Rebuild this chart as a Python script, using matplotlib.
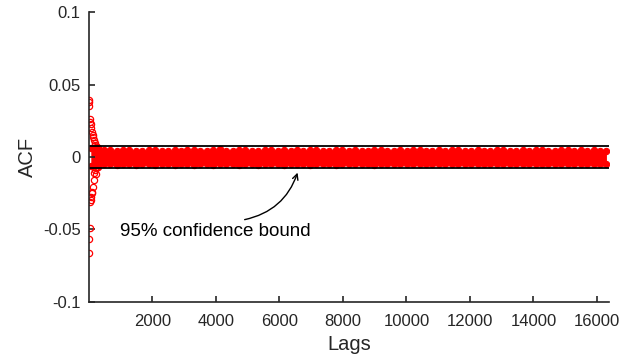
import numpy as np
import matplotlib.pyplot as plt

plt.rcParams['font.family'] = ['Liberation Sans', 'DejaVu Sans']

# autocorrelation at the first lags (the large ones stand out of the band)
early_lags = [2, 4, 6, 8, 14, 20, 30, 38, 45, 55, 62, 70, 80, 90, 100, 110,
              120, 130, 140, 150, 160, 170, 180, 190, 200, 210, 220, 230,
              240, 250, 260, 270, 280, 290, 300]
early_acf = [0.0394, -0.0665, 0.0382, -0.0569, 0.0352, -0.0493, 0.0263,
             -0.0313, 0.0244, -0.0297, 0.0228, -0.0274, 0.0200, -0.0251,
             0.0175, -0.0240, 0.0152, -0.0205, 0.0140, -0.0159, 0.0118,
             -0.0111, 0.0095, -0.0090, 0.0085, -0.0120, 0.0072, -0.0075,
             0.0068, -0.0068, 0.0070, -0.0072, 0.0065, -0.0070, 0.0060]

# upper / lower extent of the dense band of the remaining lags (x 1e-3)
band_upper = [6.4, 5.4, 4.6, 4.8, 4.3, 4.5, 4.9, 4.2, 4.4, 4.7, 5.1, 4.3,
              4.4, 4.6, 4.2, 4.5, 4.8, 4.4, 4.1, 4.6, 5.2, 4.4, 4.3, 4.7,
              4.5, 4.2, 4.4, 4.9, 4.6, 4.3, 4.5, 4.4, 4.8, 4.2, 4.5, 4.7,
              4.3, 4.4, 5.0, 4.5, 4.2, 4.6, 4.4, 4.3, 4.7, 4.5, 4.1, 4.4,
              4.8, 4.3, 4.5, 4.6, 4.2, 4.4, 4.7, 4.3, 4.5, 4.9, 4.4, 4.2,
              4.6, 4.4, 4.3, 4.8, 4.5, 4.2, 4.4, 4.7, 4.3, 4.5, 5.0, 4.4,
              4.2, 4.6, 4.8, 4.3, 4.5, 4.4, 4.7, 4.3, 4.4]
band_lower = [-6.4, -5.4, -5.0, -4.8, -5.3, -4.9, -5.1, -5.4, -4.8, -5.0,
              -5.2, -4.9, -5.1, -5.5, -5.0, -4.8, -5.2, -5.1, -4.9, -5.3,
              -5.0, -4.8, -5.1, -5.4, -4.9, -5.0, -5.2, -4.8, -5.1, -4.9,
              -5.3, -5.0, -4.8, -5.1, -5.2, -4.9, -4.7, -5.0, -5.3, -4.8,
              -4.9, -5.1, -4.8, -5.0, -5.2, -4.7, -4.9, -4.8, -5.1, -4.9,
              -4.7, -5.0, -4.8, -5.1, -4.7, -4.9, -4.8, -5.0, -4.6, -4.8,
              -4.9, -4.7, -5.0, -4.8, -4.6, -4.9, -4.7, -4.8, -5.0, -4.6,
              -4.8, -4.7, -4.9, -4.6, -4.8, -4.7, -4.5, -4.8, -4.6, -4.7,
              -4.6]
band_start, band_end = 60, 16300
max_lag = 16384
conf_bound = 0.0078

band_lags = np.linspace(band_start, band_end, len(band_upper))
upper = np.array(band_upper) / 1000
lower = np.array(band_lower) / 1000

fig = plt.figure(figsize=(6.26, 3.54), dpi=100)
ax = fig.add_axes([0.142, 0.148, 0.831, 0.817])

red = '#ff0000'
ax.fill_between(band_lags, lower, upper, color=red, lw=0)
ax.plot(band_lags, upper, 'o', color=red, ms=4.5, mew=0.8)
ax.plot(band_lags, lower, 'o', color=red, ms=4.5, mew=0.8)
ax.plot(early_lags, early_acf, 'o', color=red, mfc='none', ms=4.5, mew=0.9)

ax.plot([0, max_lag], [conf_bound, conf_bound], color='black', lw=1.3)
ax.plot([0, max_lag], [-conf_bound, -conf_bound], color='black', lw=1.3)

ax.annotate('', xy=(6600, -0.0090), xytext=(4820, -0.0437),
            arrowprops=dict(arrowstyle='->', color='black', lw=1.0,
                            connectionstyle='arc3,rad=0.3'))
ax.text(970, -0.0514, '95% confidence bound', fontsize=13.5,
        ha='left', va='center', color='black')

ax.set_xlim(0, max_lag)
ax.set_ylim(-0.1, 0.1)
ax.set_xticks(np.arange(2000, 16001, 2000))
ax.set_yticks([-0.1, -0.05, 0, 0.05, 0.1])
ax.set_yticklabels(['-0.1', '-0.05', '0', '0.05', '0.1'])
ax.set_xlabel('Lags', fontsize=14.5, labelpad=4, color='#262626')
ax.set_ylabel('ACF', fontsize=14.5, labelpad=4, color='#262626')

for side in ['top', 'right']:
    ax.spines[side].set_visible(False)
for side in ['left', 'bottom']:
    ax.spines[side].set_linewidth(1.2)
    ax.spines[side].set_color('#262626')
ax.tick_params(direction='in', length=4, width=1.2, labelsize=12,
               colors='#262626')
ax.tick_params(axis='x', pad=9)
ax.tick_params(axis='y', pad=6)

fig.savefig('out.png', dpi=100)
